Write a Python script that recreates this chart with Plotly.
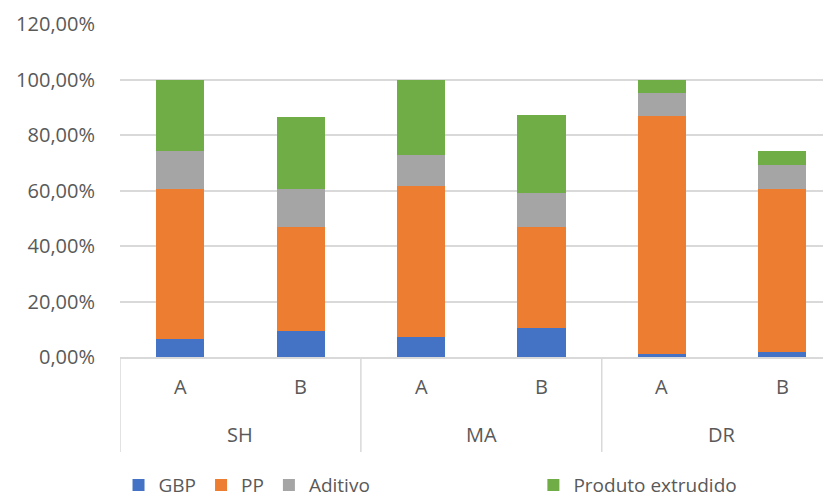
import plotly.graph_objects as go

groups = ["SH", "SH", "MA", "MA", "DR", "DR"]
samples = ["A", "B", "A", "B", "A", "B"]
group_names = ["SH", "MA", "DR"]

gbp = [0.066, 0.095, 0.073, 0.103, 0.011, 0.018]
pp = [0.541, 0.375, 0.542, 0.367, 0.856, 0.589]
aditivo = [0.136, 0.135, 0.114, 0.122, 0.085, 0.086]
produto = [0.257, 0.261, 0.271, 0.281, 0.048, 0.050]

y_ticks = [0, 0.2, 0.4, 0.6, 0.8, 1.0, 1.2]

x = [f"{g} {s}" for g, s in zip(groups, samples)]
TXT = "#595959"
GRID = "#D9D9D9"

fig = go.Figure()
fig.add_trace(go.Bar(x=x, y=gbp, name="GBP", marker_color="#4472C4"))
fig.add_trace(go.Bar(x=x, y=pp, name="PP", marker_color="#ED7D31"))
fig.add_trace(go.Bar(x=x, y=aditivo, name="Aditivo", marker_color="#A5A5A5"))
# empty legend slot, as in the original
fig.add_trace(go.Bar(x=x, y=[None] * len(x), name="\u00a0" * 23,
                     marker_color="rgba(255,255,255,0)", hoverinfo="skip"))
fig.add_trace(go.Bar(x=x, y=produto, name="Produto extrudido", marker_color="#70AD47"))
fig.update_traces(marker_line_width=0)

# two-level category labels, Excel style
for i, s in enumerate(samples):
    fig.add_annotation(x=i, y=-0.09, xref="x", yref="paper", text=s, showarrow=False,
                       font=dict(size=20, color=TXT), yanchor="middle")
n_per = len(samples) // len(group_names)
for k, g in enumerate(group_names):
    fig.add_annotation(x=k * n_per + (n_per - 1) / 2, y=-0.234, xref="x", yref="paper",
                       text=g, showarrow=False, font=dict(size=20, color=TXT), yanchor="middle")
for k in range(len(group_names) + 1):
    fig.add_shape(type="line", xref="x", yref="paper", x0=k * n_per - 0.5, x1=k * n_per - 0.5,
                  y0=0, y1=-0.285, line=dict(color=GRID, width=1.5))

fig.update_layout(
    barmode="stack",
    bargap=0.6,
    width=831,
    height=497,
    separators=",.",
    paper_bgcolor="white",
    plot_bgcolor="white",
    font=dict(family="Open Sans", size=20, color=TXT),
    margin=dict(l=112, r=0, t=16, b=148, autoexpand=False),
    legend=dict(orientation="h", xref="container", yref="container", x=0.133, y=0.04,
                xanchor="left", yanchor="middle", font=dict(size=19, color=TXT),
                traceorder="normal"),
    showlegend=True,
)
fig.update_yaxes(range=[0, 1.2], tickvals=y_ticks, tickformat=".2%",
                 gridcolor=GRID, gridwidth=1.5, zeroline=False, showline=False,
                 ticklabelstandoff=24, automargin=False, tickfont=dict(size=20, color=TXT))
fig.update_xaxes(range=[-0.5, 5.47], showticklabels=False,
                 showline=True, linecolor=GRID, linewidth=1.5, automargin=False)

fig.write_html("out.html")
